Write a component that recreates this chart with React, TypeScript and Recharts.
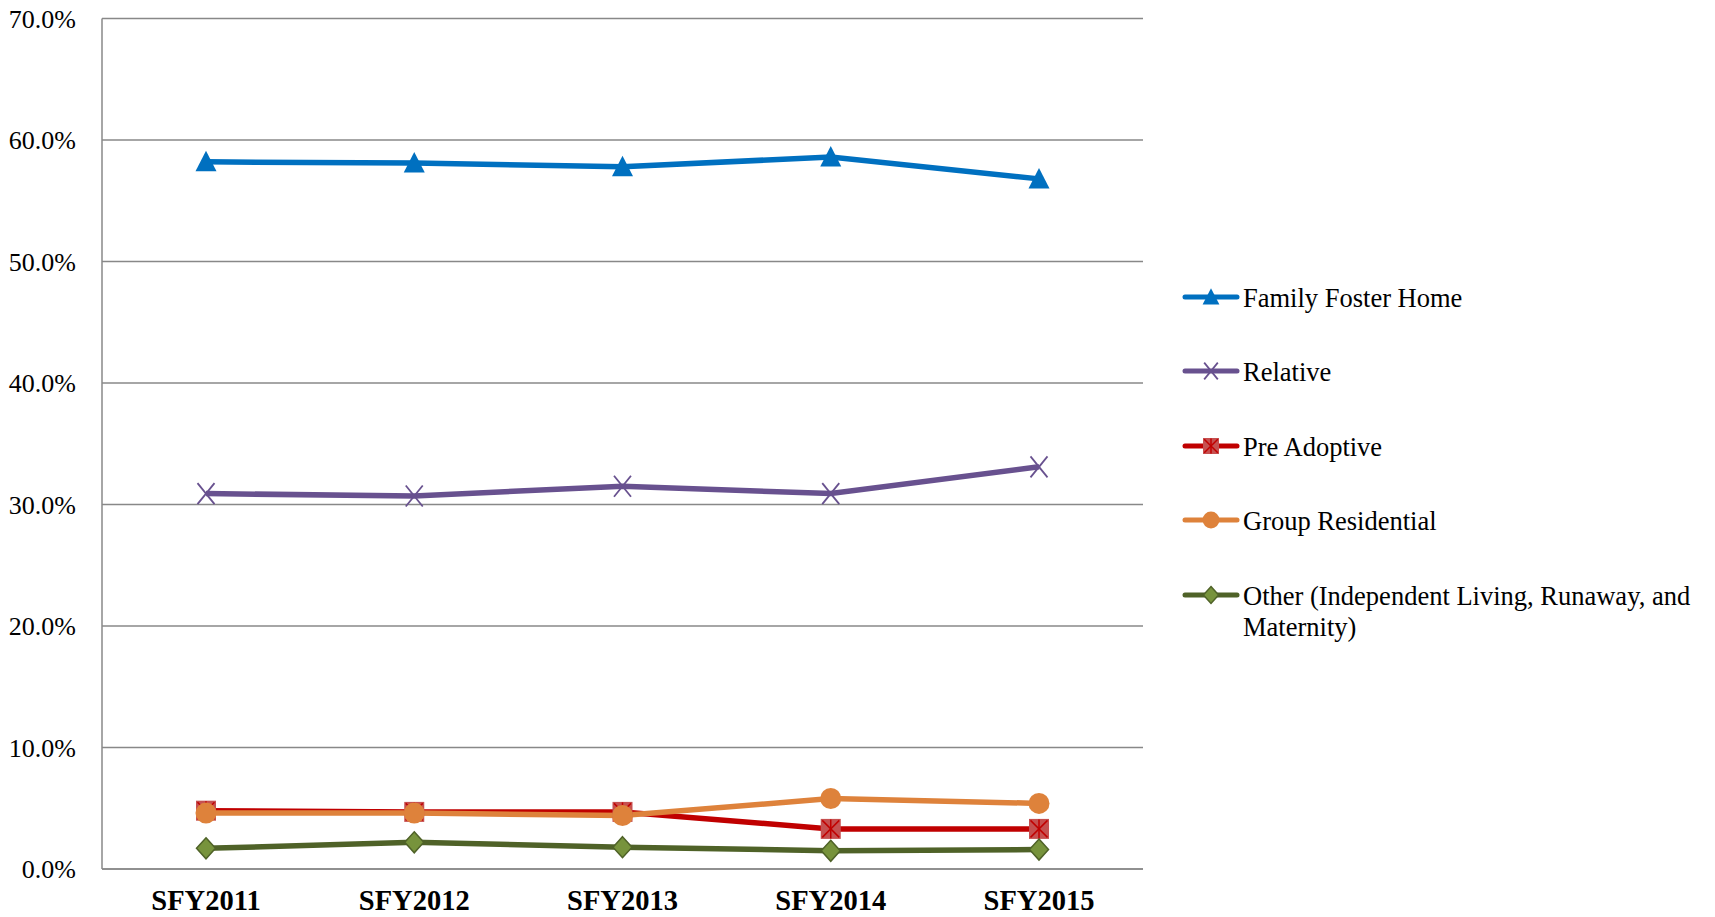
import { LineChart, Line, XAxis, YAxis, CartesianGrid } from 'recharts'

const years = ['SFY2011', 'SFY2012', 'SFY2013', 'SFY2014', 'SFY2015']
const familyFoster = [58.2, 58.1, 57.8, 58.6, 56.8]
const relative = [30.9, 30.7, 31.5, 30.9, 33.1]
const preAdoptive = [4.8, 4.7, 4.7, 3.3, 3.3]
const groupResidential = [4.6, 4.6, 4.4, 5.8, 5.4]
const other = [1.7, 2.2, 1.8, 1.5, 1.6]
const yTicks = [0, 10, 20, 30, 40, 50, 60, 70]

const data = years.map((year, i) => ({
  year,
  familyFoster: familyFoster[i],
  relative: relative[i],
  preAdoptive: preAdoptive[i],
  groupResidential: groupResidential[i],
  other: other[i],
}))

const FONT = '"Liberation Serif", "Times New Roman", serif'
const GRID = '#888888'

type MarkerFn = (cx: number, cy: number, s: number) => JSX.Element

const triangle: MarkerFn = (cx, cy, s) => (
  <polygon
    points={`${cx},${cy - 11 * s} ${cx - 10.5 * s},${cy + 9.5 * s} ${cx + 10.5 * s},${cy + 9.5 * s}`}
    fill="#0070C0"
  />
)

const cross: MarkerFn = (cx, cy, s) => (
  <g stroke="#68518F" strokeWidth={1.8}>
    <line x1={cx - 8.5 * s} y1={cy - 10.5 * s} x2={cx + 8.5 * s} y2={cy + 10.5 * s} />
    <line x1={cx + 8.5 * s} y1={cy - 10.5 * s} x2={cx - 8.5 * s} y2={cy + 10.5 * s} />
  </g>
)

const starSquare: MarkerFn = (cx, cy, s) => (
  <g>
    <rect x={cx - 10 * s} y={cy - 10 * s} width={20 * s} height={20 * s} fill="#C65050" />
    <g stroke="#C00000" strokeWidth={1.5}>
      <line x1={cx} y1={cy - 9.5 * s} x2={cx} y2={cy + 9.5 * s} />
      <line x1={cx - 8.5 * s} y1={cy - 8.5 * s} x2={cx + 8.5 * s} y2={cy + 8.5 * s} />
      <line x1={cx + 8.5 * s} y1={cy - 8.5 * s} x2={cx - 8.5 * s} y2={cy + 8.5 * s} />
    </g>
  </g>
)

const circle: MarkerFn = (cx, cy, s) => <circle cx={cx} cy={cy} r={10.5 * s} fill="#DE823B" />

const diamond: MarkerFn = (cx, cy, s) => (
  <polygon
    points={`${cx},${cy - 10.5 * s} ${cx + 9.5 * s},${cy} ${cx},${cy + 10.5 * s} ${cx - 9.5 * s},${cy}`}
    fill="#77933C"
    stroke="#4F6228"
    strokeWidth={1.5}
  />
)

const series = [
  { key: 'familyFoster', name: 'Family Foster Home', color: '#0070C0', marker: triangle },
  { key: 'relative', name: 'Relative', color: '#68518F', marker: cross },
  { key: 'preAdoptive', name: 'Pre Adoptive', color: '#C00000', marker: starSquare },
  { key: 'groupResidential', name: 'Group Residential', color: '#DE823B', marker: circle },
  {
    key: 'other',
    name: 'Other (Independent Living, Runaway, and Maternity)',
    color: '#4F6228',
    marker: diamond,
  },
]

function makeDot(marker: MarkerFn) {
  return (props: any) => {
    const { cx, cy, index } = props
    if (cx == null || cy == null) return <g key={index} />
    return <g key={`dot-${index}`}>{marker(cx, cy, 1)}</g>
  }
}

function LegendBlock() {
  return (
    <div style={{ position: 'absolute', left: 1183, top: 0, fontFamily: FONT }}>
      {series.map((s, i) => {
        const cy = 297 + 74.5 * i
        return (
          <div key={s.key} style={{ position: 'absolute', top: cy - 14.3, left: 0 }}>
            <svg
              width={58}
              height={24}
              style={{ position: 'absolute', left: -1, top: 14.3 - 12 }}
            >
              <line x1={3} y1={12} x2={55} y2={12} stroke={s.color} strokeWidth={5} strokeLinecap="round" />
              {s.marker(29, 12, 0.8)}
            </svg>
            <div
              style={{
                position: 'absolute',
                left: 60,
                top: 0,
                width: 470,
                fontSize: 26.5,
                lineHeight: '31px',
                color: '#000',
              }}
            >
              {s.name}
            </div>
          </div>
        )
      })}
    </div>
  )
}

export default function App() {
  return (
    <div style={{ position: 'absolute', left: 0, top: 0, width: 1715, height: 917, background: '#fff' }}>
      <LineChart
        width={1715}
        height={917}
        data={data}
        margin={{ top: 18.5, right: 572, bottom: 0, left: 0 }}
      >
        <CartesianGrid vertical={false} stroke={GRID} strokeWidth={1.5} />
        <XAxis
          dataKey="year"
          height={48}
          padding={{ left: 104, right: 104 }}
          tickLine={false}
          tickSize={0}
          tickMargin={21}
          axisLine={{ stroke: GRID, strokeWidth: 1.5 }}
          tick={{ fontSize: 28.5, fontWeight: 'bold', fill: '#000', fontFamily: FONT }}
        />
        <YAxis
          width={102}
          domain={[0, 70]}
          ticks={yTicks}
          tickLine={false}
          tickSize={0}
          tickMargin={26}
          axisLine={{ stroke: GRID, strokeWidth: 1.5 }}
          tickFormatter={(v: number) => `${v.toFixed(1)}%`}
          tick={{ fontSize: 26, fill: '#000', fontFamily: FONT }}
        />
        {series.map((s) => (
          <Line
            key={s.key}
            dataKey={s.key}
            name={s.name}
            type="linear"
            stroke={s.color}
            strokeWidth={5.5}
            dot={makeDot(s.marker)}
            activeDot={false}
            isAnimationActive={false}
          />
        ))}
      </LineChart>
      <LegendBlock />
    </div>
  )
}
